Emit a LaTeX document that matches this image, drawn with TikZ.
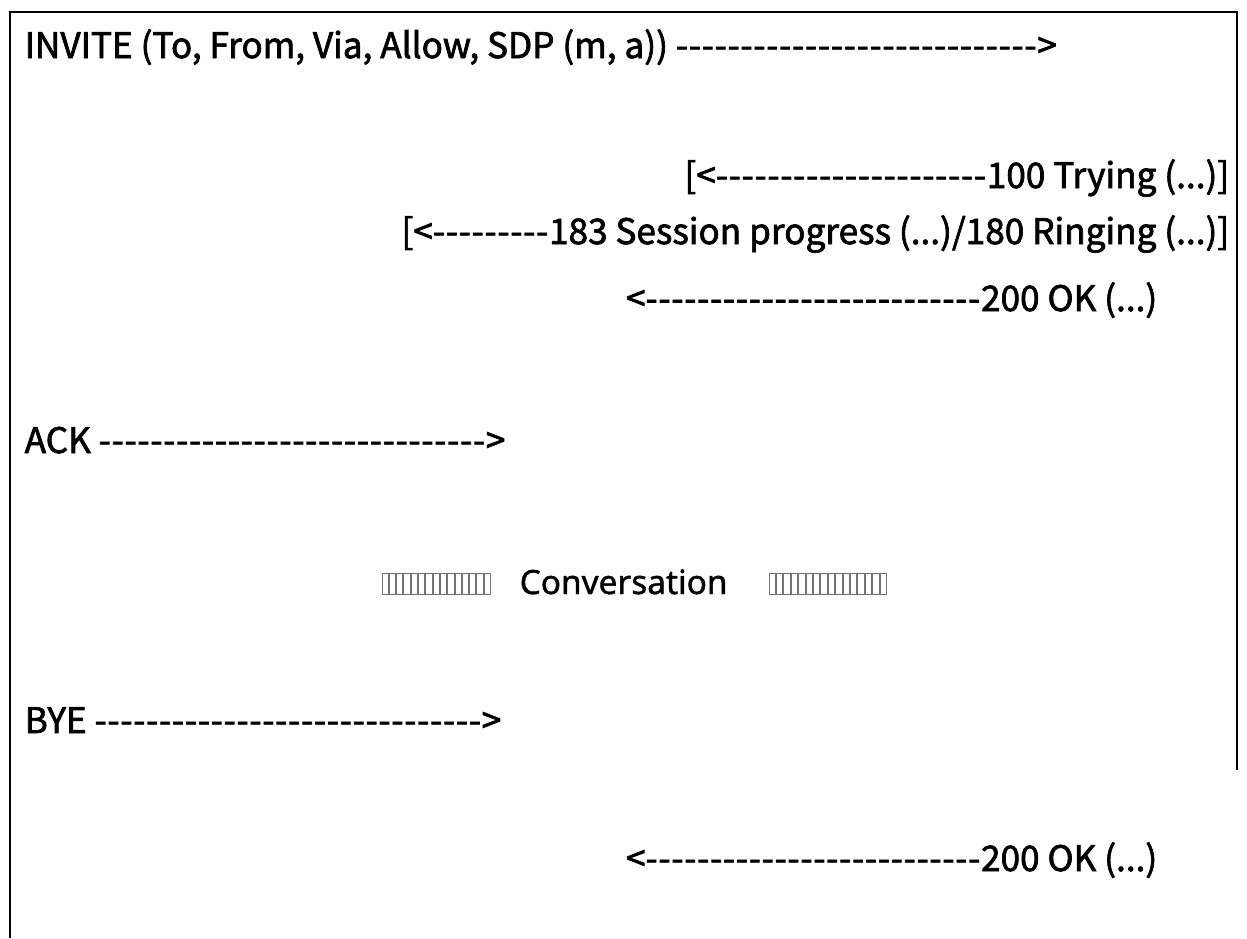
\documentclass[tikz,border=0pt]{standalone}
\usepackage{fontspec}
\setmainfont{Noto Sans CJK KR}[Ligatures=TeXOff,FakeBold=2]
\newfontfamily\convfont{Noto Sans}[FakeBold=1.2]
% a run of wide hyphens
\newcommand{\dashrun}[1]{\foreach \k in {1,...,#1}{-\kern0.2pt}}

\begin{document}
\begin{tikzpicture}[x=0.01cm,y=-0.01cm]
\tikzstyle{every node}+=[inner sep=0pt,font=\fontsize{10}{12}\selectfont]
\tikzstyle{msgl}=[anchor=base west]
\tikzstyle{msgr}=[anchor=base east]
\tikzstyle{tofu}=[draw=black!55,line width=0.25pt]
\useasboundingbox (0,0) rectangle (1247,938);
% cell border
\draw [black,line width=0.8pt] (10,938) -- (10,12) -- (1237,12) -- (1237,770);
% messages
\node [msgl] (invite) at (24,58) {INVITE (To, From, Via, Allow, SDP (m, a)) \dashrun{28}>};
\node [msgr] (trying) at (1230,188) {[<\dashrun{21}100 Trying (...)]};
\node [msgr] (ringing) at (1230,244) {[<\dashrun{9}183 Session progress (...)/180 Ringing (...)]};
\node [msgr] (okinvite) at (1158,311) {<\dashrun{26}200 OK (...)};
\node [msgl] (ack) at (24,453) {ACK \dashrun{30}>};
\node [msgl,font=\convfont\fontsize{9.5}{11}\selectfont] (conv) at (519,594) {Conversation};
\foreach \i in {0,...,14}
  \draw [tofu] (382+\i*7.3,573) rectangle +(6.3,21);
\foreach \i in {0,...,15}
  \draw [tofu] (769+\i*7.4,573) rectangle +(6.4,21);
\node [msgl] (bye) at (24,733) {BYE \dashrun{30}>};
\node [msgr] (okbye) at (1158,871) {<\dashrun{26}200 OK (...)};
\end{tikzpicture}
\end{document}
